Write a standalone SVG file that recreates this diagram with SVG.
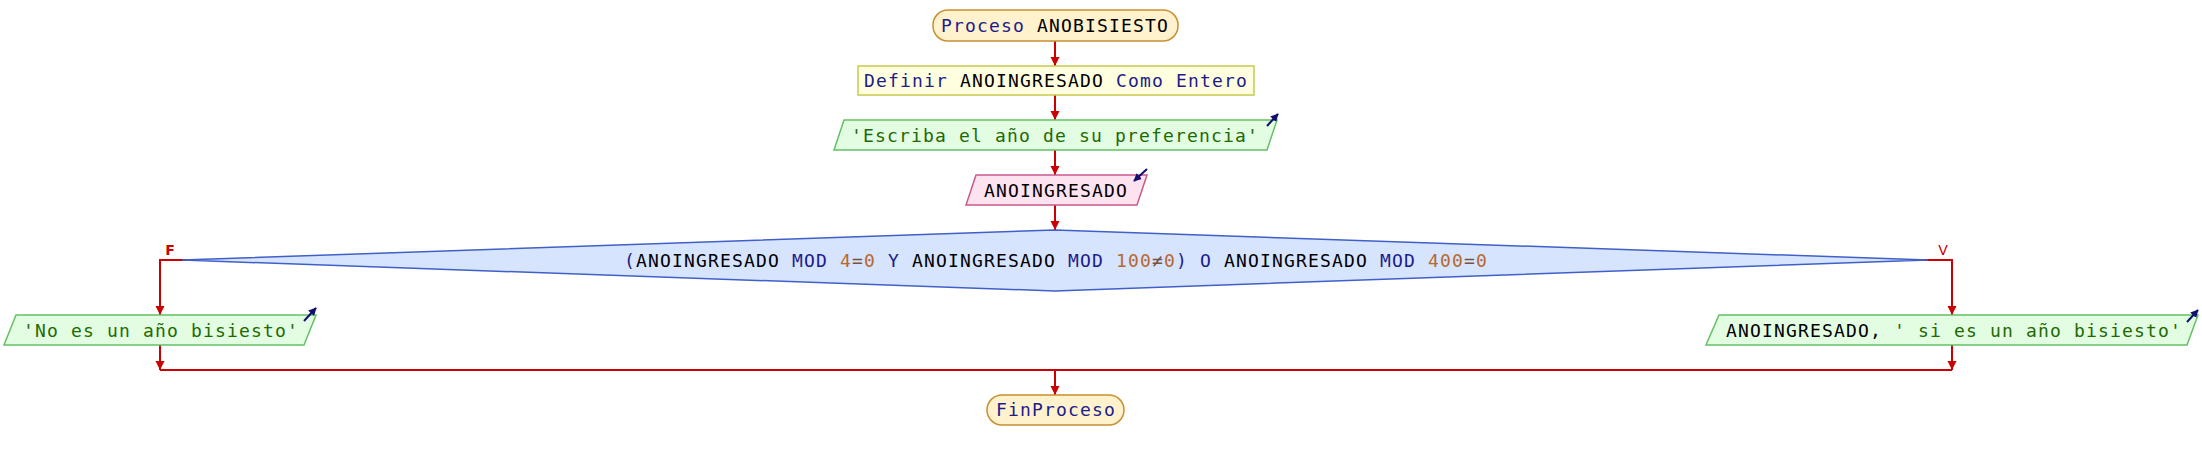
<svg xmlns="http://www.w3.org/2000/svg" width="2202" height="460" viewBox="0 0 2202 460">
<style>
text{font-family:"DejaVu Sans Mono","Liberation Mono",monospace;font-size:18px;letter-spacing:1.16px;text-anchor:middle}
.kw{fill:#1c1c8c}
.id{fill:#000000}
.st{fill:#1e6a00}
.nu{fill:#b8682e}
.op{fill:#7a5040}
.term{fill:#fff2cc;stroke:#c8902e;stroke-width:1.5}
.def{fill:#ffffe0;stroke:#c8c850;stroke-width:1.5}
.out{fill:#e3fde3;stroke:#64c064;stroke-width:1.5}
.inp{fill:#fde3f0;stroke:#c85a8c;stroke-width:1.5}
.dec{fill:#d6e4fe;stroke:#4060c8;stroke-width:1.5}
.flow{fill:none;stroke:#cc0000;stroke-width:2}
.io{fill:none;stroke:#10106e;stroke-width:2}
.lbl{font-family:"DejaVu Sans","Liberation Sans",sans-serif;font-size:14px;font-weight:bold;fill:#cc0000;letter-spacing:0}
</style>
<defs>
<marker id="ah" viewBox="0 0 10 10" refX="10" refY="5" markerWidth="9" markerHeight="10" markerUnits="userSpaceOnUse" orient="auto">
<path d="M0,0 L10,5 L0,10 z" fill="#cc0000"/>
</marker>
<marker id="ioh" viewBox="0 0 10 10" refX="9" refY="5" markerWidth="8" markerHeight="8" markerUnits="userSpaceOnUse" orient="auto">
<path d="M0,0 L10,5 L0,10 z" fill="#10106e"/>
</marker>
</defs>

<g id="connectors">
<line class="flow" x1="1055" y1="41" x2="1055" y2="66" marker-end="url(#ah)"/>
<line class="flow" x1="1055" y1="95" x2="1055" y2="120" marker-end="url(#ah)"/>
<line class="flow" x1="1055" y1="150" x2="1055" y2="175" marker-end="url(#ah)"/>
<line class="flow" x1="1055" y1="205" x2="1055" y2="230" marker-end="url(#ah)"/>
<polyline class="flow" points="195,260 160,260 160,315" marker-end="url(#ah)"/>
<polyline class="flow" points="1915,260 1952,260 1952,315" marker-end="url(#ah)"/>
<line class="flow" x1="160" y1="345" x2="160" y2="370" marker-end="url(#ah)"/>
<line class="flow" x1="1952" y1="345" x2="1952" y2="370" marker-end="url(#ah)"/>
<line class="flow" x1="160" y1="370" x2="1952" y2="370"/>
<line class="flow" x1="1055" y1="370" x2="1055" y2="395" marker-end="url(#ah)"/>
<text class="lbl" x="170" y="255">F</text>
<text class="lbl" x="1943" y="255" style="font-weight:normal">V</text>
</g>

<g id="start">
<rect class="term" x="933" y="10" width="245" height="31" rx="15" ry="15"/>
<text x="1055" y="32"><tspan class="kw">Proceso</tspan> <tspan class="id">ANOBISIESTO</tspan></text>
</g>

<g id="define">
<rect class="def" x="858" y="66" width="396" height="29"/>
<text x="1056" y="87"><tspan class="kw">Definir</tspan> <tspan class="id">ANOINGRESADO</tspan> <tspan class="kw">Como Entero</tspan></text>
</g>

<g id="write1">
<polygon class="out" points="844,120 1277,120 1267,150 834,150"/>
<text x="1055" y="142" class="st">'Escriba el año de su preferencia'</text>
<line class="io" x1="1267" y1="126" x2="1278" y2="114" marker-end="url(#ioh)"/>
</g>

<g id="read">
<polygon class="inp" points="976,175 1147,175 1137,205 966,205"/>
<text x="1056" y="197" class="id">ANOINGRESADO</text>
<line class="io" x1="1147" y1="169" x2="1134" y2="181" marker-end="url(#ioh)"/>
</g>

<g id="decision">
<polygon class="dec" points="182,260 1055,230 1928,260 1055,291"/>
<text x="1056" y="267"><tspan class="kw">(</tspan><tspan class="id">ANOINGRESADO</tspan> <tspan class="kw">MOD</tspan> <tspan class="nu">4</tspan><tspan class="op">=</tspan><tspan class="nu">0</tspan> <tspan class="kw">Y</tspan> <tspan class="id">ANOINGRESADO</tspan> <tspan class="kw">MOD</tspan> <tspan class="nu">100</tspan><tspan class="op">≠</tspan><tspan class="nu">0</tspan><tspan class="kw">)</tspan> <tspan class="kw">O</tspan> <tspan class="id">ANOINGRESADO</tspan> <tspan class="kw">MOD</tspan> <tspan class="nu">400</tspan><tspan class="op">=</tspan><tspan class="nu">0</tspan></text>
</g>

<g id="write_no">
<polygon class="out" points="16,315 316,315 304,345 4,345"/>
<text x="161" y="337" class="st">'No es un año bisiesto'</text>
<line class="io" x1="304" y1="321" x2="316" y2="308" marker-end="url(#ioh)"/>
</g>

<g id="write_yes">
<polygon class="out" points="1719,315 2198,315 2187,345 1706,345"/>
<text x="1954" y="337"><tspan class="id">ANOINGRESADO,</tspan> <tspan class="st">' si es un año bisiesto'</tspan></text>
<line class="io" x1="2187" y1="322" x2="2198" y2="310" marker-end="url(#ioh)"/>
</g>

<g id="end">
<rect class="term" x="987" y="395" width="137" height="30" rx="15" ry="15"/>
<text x="1056" y="416" class="kw">FinProceso</text>
</g>
</svg>
